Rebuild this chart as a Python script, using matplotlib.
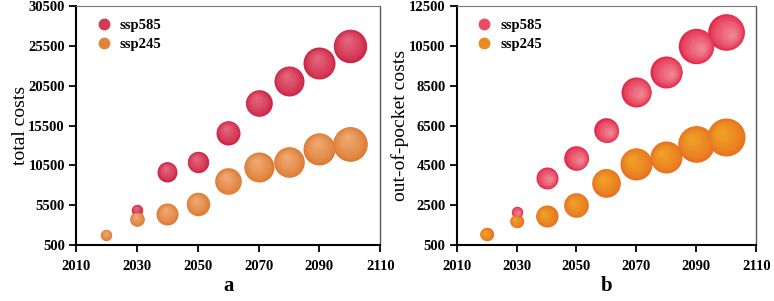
import numpy as np
import matplotlib.pyplot as plt
from matplotlib.transforms import ScaledTranslation
from matplotlib.colors import to_rgb
from matplotlib.lines import Line2D

years_585 = [2030, 2040, 2050, 2060, 2070, 2080, 2090, 2100]
years_245 = [2020, 2030, 2040, 2050, 2060, 2070, 2080, 2090, 2100]

# panel a: total costs
total_585 = [4900, 9700, 10900, 14600, 18300, 21100, 23300, 25500]
total_245 = [1750, 3800, 4400, 5650, 8500, 10300, 10900, 12600, 13200]
# bubble radii (px)
total_585_r = [5.7, 10, 10.7, 12, 13.3, 15, 16, 16.7]
total_245_r = [5.7, 7.3, 11, 11.7, 13.3, 15, 15.3, 16, 17.3]

# panel b: out-of-pocket costs
oop_585 = [2150, 3880, 4870, 6250, 8200, 9200, 10500, 11200]
oop_245 = [1030, 1700, 1950, 2500, 3630, 4580, 4900, 5580, 5920]
oop_585_r = [5.7, 11, 12.3, 12.3, 15, 16, 17.7, 18.3]
oop_245_r = [6.7, 6.7, 11, 12.3, 14.3, 16, 16, 18.3, 19]

plt.rcParams['font.family'] = ['Liberation Serif', 'DejaVu Serif']

fig = plt.figure(figsize=(7.74, 3.01), dpi=100)
ax1 = fig.add_axes([0.0982, 0.186, 0.393, 0.794])
ax2 = fig.add_axes([0.590, 0.186, 0.387, 0.794])


def bubbles(ax, xs, ys, radii, edge, light, hdir, n=16):
    edge = np.array(to_rgb(edge))
    light = np.array(to_rgb(light))
    for x, y, r in zip(xs, ys, radii):
        for k in range(n):
            f = k / n
            rr = r * (1 - f)
            c = edge * (1 - f ** 0.7) + light * f ** 0.7
            dx = hdir[0] * r * f * 0.6 / 100
            dy = hdir[1] * r * f * 0.6 / 100
            tr = ax.transData + ScaledTranslation(dx, dy, fig.dpi_scale_trans)
            d = 2 * rr * 0.72
            ax.scatter([x], [y], s=d * d, color=c, linewidths=0,
                       transform=tr, zorder=3 + k * 0.01)


bubbles(ax1, years_585, total_585, total_585_r, '#cd2443', '#e56a80', (-0.3, 0.7))
bubbles(ax1, years_245, total_245, total_245_r, '#dd7a32', '#f0ac76', (-0.3, 0.7))
bubbles(ax2, years_585, oop_585, oop_585_r, '#e4284a', '#f08e98', (0.6, -0.3))
bubbles(ax2, years_245, oop_245, oop_245_r, '#e87020', '#efa626', (-0.6, 0.5))

for ax, yt, ylab, xlab, cols, lx in [
    (ax1, np.arange(500, 30501, 5000), 'total costs', 'a', ('#d63850', '#e08438'), -0.155),
    (ax2, np.arange(500, 12501, 2000), 'out-of-pocket costs', 'b', ('#ea4a62', '#ec8a1e'), -0.16),
]:
    ax.set_xlim(2010, 2110)
    ax.set_ylim(yt[0], yt[-1])
    ax.set_xticks(np.arange(2010, 2111, 20))
    ax.set_yticks(yt)
    ax.tick_params(direction='out', length=5, width=1.3, labelsize=10.5, pad=3)
    ax.tick_params(axis='x', pad=6)
    for lab in ax.get_xticklabels() + ax.get_yticklabels():
        lab.set_fontweight('bold')
    ax.spines['left'].set_linewidth(1.5)
    ax.spines['bottom'].set_linewidth(1.5)
    ax.spines['right'].set_color('#555555')
    ax.spines['top'].set_color('#777777')
    ax.spines['right'].set_linewidth(1.0)
    ax.spines['top'].set_linewidth(0.8)
    ax.tick_params(top=False, right=False)
    ax.set_ylabel(ylab, fontsize=14)
    ax.yaxis.set_label_coords(lx, 0.5)
    ax.set_xlabel(xlab, fontsize=15, fontweight='bold', labelpad=2)
    handles = [Line2D([], [], marker='o', linestyle='', markersize=8.5, color=cols[0], markeredgewidth=0),
               Line2D([], [], marker='o', linestyle='', markersize=8.5, color=cols[1], markeredgewidth=0)]
    ax.legend(handles, ['ssp585', 'ssp245'], loc='upper left', frameon=False,
              prop={'weight': 'bold', 'size': 10.5}, handletextpad=0.1,
              bbox_to_anchor=(0.0, 1.0), labelspacing=0.4)

fig.savefig('out.png', dpi=100)
